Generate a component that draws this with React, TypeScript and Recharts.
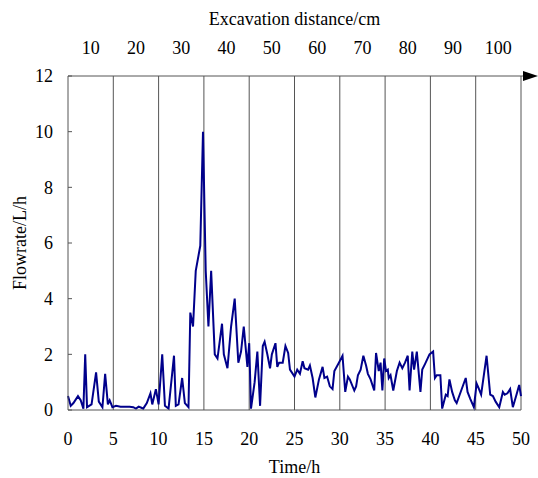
import { LineChart, Line, XAxis, YAxis, ReferenceLine, ReferenceDot } from 'recharts';

// time in hours and flowrate in L/h
const hours = [
  0, 0.3, 0.6, 1.1, 1.4, 1.7, 1.9, 2.1, 2.6, 3.1, 3.4, 3.8, 4.1, 4.4, 4.6, 4.9,
  5.3, 5.8, 6.3, 6.8, 7.2, 7.5, 7.8, 8.1, 8.3, 8.7, 9.1, 9.3, 9.7, 10.0,
  10.4, 10.7, 11.1, 11.7, 11.9, 12.2, 12.6, 12.9, 13.3, 13.5, 13.8, 14.1, 14.6, 14.9,
  15.2, 15.5, 15.8, 16.2, 16.5, 17.0, 17.2, 17.6, 18.0, 18.4, 18.8, 19.1, 19.4, 19.8,
  20.0, 20.2, 20.6, 20.9, 21.2, 21.5, 21.7, 22.0, 22.3, 22.5, 22.9, 23.1, 23.3, 23.7,
  24.0, 24.3, 24.5, 25.0, 25.3, 25.6, 25.9, 26.1, 26.5, 26.7, 27.0, 27.3, 27.7, 28.1,
  28.3, 28.6, 28.9, 29.2, 29.4, 29.9, 30.3, 30.6, 30.9, 31.1, 31.6, 31.8, 32.0, 32.3,
  32.6, 32.9, 33.1, 33.4, 33.8, 34.0, 34.3, 34.5, 34.7, 34.9, 35.1, 35.3, 35.4, 35.6,
  35.9, 36.3, 36.6, 36.9, 37.2, 37.5, 37.7, 38.0, 38.2, 38.5, 38.9, 39.1, 39.4, 39.9,
  40.3, 40.5, 40.7, 41.1, 41.3, 41.7, 41.9, 42.1, 42.4, 42.7, 42.9, 43.4, 43.9, 44.1,
  44.4, 44.8, 45.1, 45.3, 45.6, 46.2, 46.6, 46.9, 47.2, 47.6, 48.0, 48.2, 48.5, 48.8,
  49.1, 49.5, 49.8, 50.0,
];
const flowrate = [
  0.5, 0.15, 0.25, 0.5, 0.35, 0.05, 2.0, 0.1, 0.2, 1.35, 0.3, 0.1, 1.3, 0.2, 0.35, 0.1,
  0.15, 0.12, 0.12, 0.12, 0.1, 0.05, 0.12, 0.08, 0.05, 0.25, 0.6, 0.2, 0.75, 0.2,
  2.0, 0.15, 0.05, 1.95, 0.15, 0.2, 1.15, 0.25, 0.1, 3.5, 3.0, 5.0, 5.9, 10.0,
  5.0, 3.0, 5.0, 2.0, 1.85, 3.1, 2.0, 1.5, 3.0, 4.0, 1.7, 2.1, 3.0, 1.55,
  2.4, 0.05, 1.0, 2.1, 0.15, 2.3, 2.45, 2.0, 1.5, 2.0, 2.4, 1.55, 1.7, 1.7,
  2.3, 2.05, 1.45, 1.2, 1.45, 1.3, 1.75, 1.5, 1.45, 1.6, 1.15, 0.45, 1.1, 1.55,
  1.15, 1.2, 0.85, 0.75, 1.4, 1.7, 1.95, 0.65, 1.2, 1.1, 0.7, 0.85, 1.25, 1.45,
  1.95, 1.6, 1.3, 1.1, 0.7, 2.05, 1.4, 1.7, 0.7, 1.85, 1.4, 1.45, 1.15, 1.25,
  0.7, 1.4, 1.7, 1.5, 1.7, 1.95, 0.7, 2.1, 1.45, 2.1, 0.65, 1.45, 1.65, 2.0,
  2.1, 1.15, 1.25, 1.25, 0.05, 0.55, 0.5, 1.1, 0.65, 0.35, 0.25, 0.7, 1.15, 0.65,
  0.4, 0.1, 0.95, 0.8, 0.55, 1.95, 0.55, 0.5, 0.3, 0.1, 0.65, 0.55, 0.6, 0.75,
  0.1, 0.55, 0.9, 0.5,
];

const timeTicks = [0, 5, 10, 15, 20, 25, 30, 35, 40, 45, 50];
const flowTicks = [0, 2, 4, 6, 8, 10, 12];
// excavation distance labels sit in the middle of each 5 h band
const distanceTicks = [2.5, 7.5, 12.5, 17.5, 22.5, 27.5, 32.5, 37.5, 42.5, 47.5];
const distanceLabels = ['10', '20', '30', '40', '50', '60', '70', '80', '90', '100'];
const bandLines = [5, 10, 15, 20, 25, 30, 35, 40, 45];

const data = hours.map((t, i) => ({ t, flow: flowrate[i] }));

const font = { fontFamily: '"Liberation Serif", "Times New Roman", serif', fontSize: 18, fill: '#000' };
const axisColor = '#555';

const YTick = (props: any) => {
  const { x, y, payload } = props;
  return (
    <g>
      <line x1={x + 15} x2={x + 19} y1={y} y2={y} stroke={axisColor} />
      <text x={x} y={y} dy="0.35em" textAnchor="end" {...font}>
        {payload.value}
      </text>
    </g>
  );
};

const Arrow = (props: any) => {
  const { cx, cy } = props;
  if (cx == null) return null;
  return (
    <g>
      <line x1={cx} x2={cx + 3} y1={cy} y2={cy} stroke={axisColor} />
      <polygon points={`${cx + 2},${cy - 5} ${cx + 2},${cy + 5} ${cx + 17},${cy}`} fill="#000" />
    </g>
  );
};

export default function App() {
  return (
    <div style={{ position: 'absolute', left: 0, top: 0, background: '#fff' }}>
      <LineChart width={538} height={478} data={data} margin={{ top: 0, right: 17, bottom: 0, left: 0 }}>
        <XAxis
          xAxisId="bottom"
          dataKey="t"
          type="number"
          domain={[0, 50]}
          ticks={timeTicks}
          height={68}
          tickSize={0}
          tickMargin={22}
          tickLine={false}
          axisLine={{ stroke: axisColor }}
          tick={font}
          label={{ value: 'Time/h', position: 'insideBottom', offset: 5, ...font }}
        />
        <XAxis
          xAxisId="top"
          orientation="top"
          dataKey="t"
          type="number"
          domain={[0, 50]}
          ticks={distanceTicks}
          tickFormatter={(v: number) => distanceLabels[distanceTicks.indexOf(v)]}
          height={76}
          tickSize={0}
          tickMargin={22}
          tickLine={false}
          axisLine={{ stroke: axisColor }}
          tick={font}
          label={{ value: 'Excavation distance/cm', position: 'insideTop', offset: 12, ...font }}
        />
        <YAxis
          domain={[0, 12]}
          ticks={flowTicks}
          width={68}
          tickSize={0}
          tickMargin={15}
          tickLine={false}
          axisLine={{ stroke: axisColor }}
          tick={<YTick />}
          label={{
            value: 'Flowrate/L/h',
            angle: -90,
            position: 'insideLeft',
            offset: 20,
            ...font,
            style: { textAnchor: 'middle' },
          }}
        />
        {bandLines.map((v) => (
          <ReferenceLine key={v} xAxisId="bottom" x={v} stroke={axisColor} />
        ))}
        <ReferenceLine xAxisId="bottom" x={50} stroke={axisColor} />
        <ReferenceDot xAxisId="bottom" x={50} y={12} r={0} shape={<Arrow />} ifOverflow="visible" />
        <Line
          xAxisId="bottom"
          dataKey="flow"
          type="linear"
          stroke="#00008b"
          strokeWidth={2}
          dot={false}
          isAnimationActive={false}
        />
      </LineChart>
    </div>
  );
}
